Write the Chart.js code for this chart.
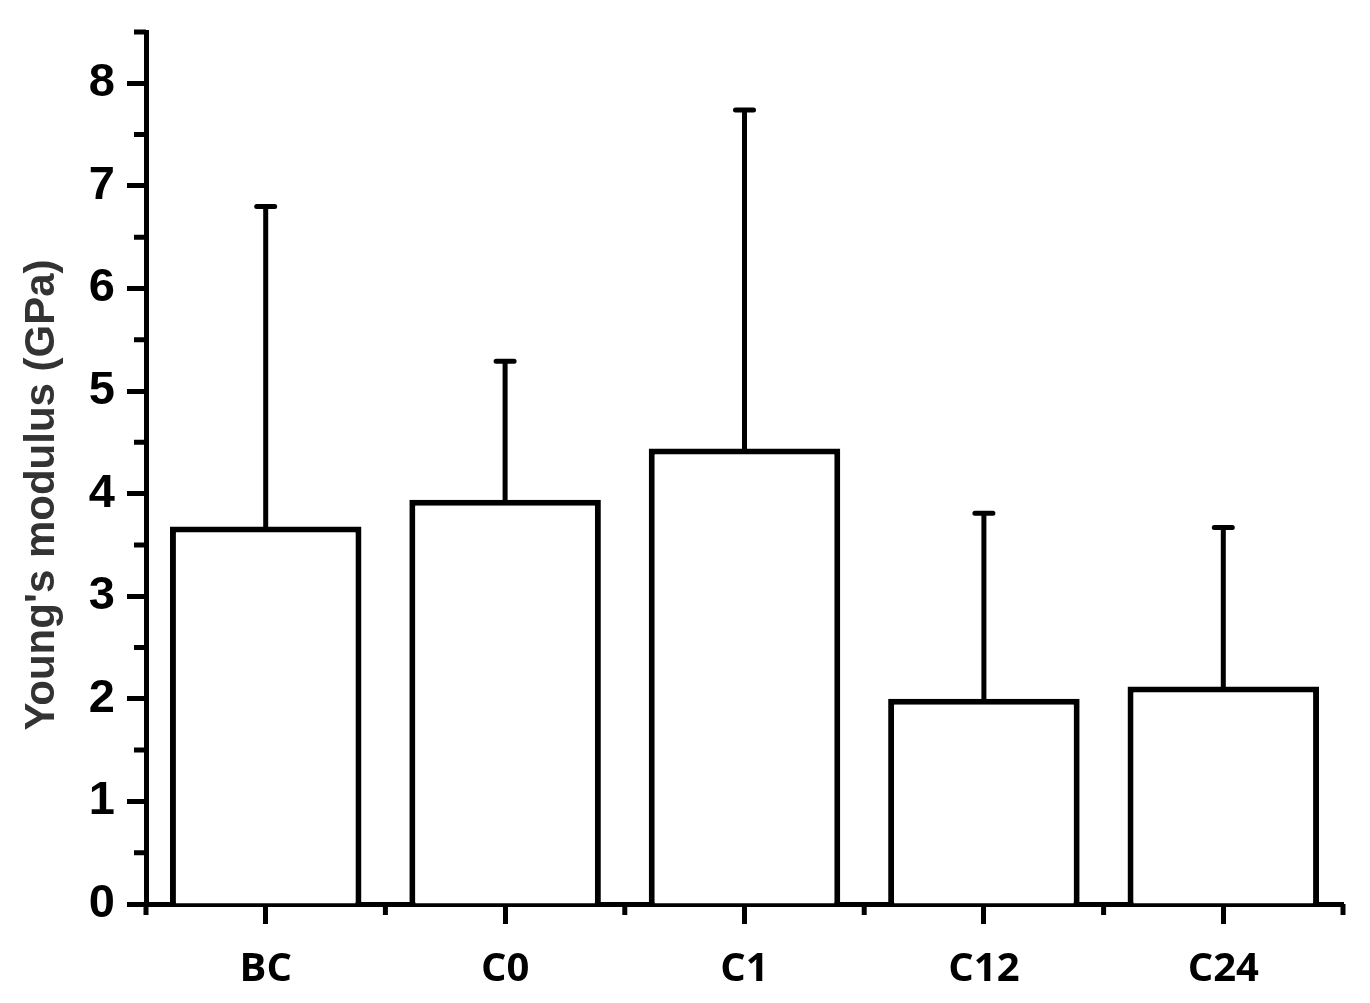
<!DOCTYPE html>
<html lang="en">
<head>
    <meta charset="UTF-8">
    <script src="https://cdn.jsdelivr.net/npm/chart.js"></script>
    <title>Young's modulus</title>
    <style>
        body { margin: 0; background: #fff; }
        .chart-box { width: 1370px; height: 1003px; }
    </style>
</head>
<body>
    <div class="chart-box">
        <canvas id="modulusChart"></canvas>
    </div>
    <script>
        // values
        var samples = ['BC', 'C0', 'C1', 'C12', 'C24'];
        var modulus = [3.68, 3.94, 4.44, 2.00, 2.12];
        var modulusErr = [3.12, 1.35, 3.30, 1.81, 1.55];
        var yMinorTicks = [0.5, 1.5, 2.5, 3.5, 4.5, 5.5, 6.5, 7.5, 8.5];
        var yTitle = "Young's modulus (GPa)";

        // upper error bars on top of each bar
        var errorBars = {
            id: 'errorBars',
            afterDatasetsDraw: function (chart) {
                var ctx = chart.ctx;
                var y = chart.scales.y;
                var meta = chart.getDatasetMeta(0);
                ctx.save();
                ctx.strokeStyle = '#000';
                ctx.lineWidth = 5;
                ctx.lineCap = 'round';
                meta.data.forEach(function (bar, i) {
                    var top = y.getPixelForValue(modulus[i] + modulusErr[i]);
                    ctx.beginPath();
                    ctx.moveTo(bar.x, bar.y);
                    ctx.lineTo(bar.x, top);
                    ctx.moveTo(bar.x - 9, top);
                    ctx.lineTo(bar.x + 9, top);
                    ctx.stroke();
                });
                ctx.restore();
            }
        };

        // minor ticks + rotated y title
        var axisExtras = {
            id: 'axisExtras',
            afterDraw: function (chart) {
                var ctx = chart.ctx;
                var x = chart.scales.x;
                var y = chart.scales.y;
                ctx.save();
                ctx.strokeStyle = '#000';
                ctx.lineWidth = 5;
                ctx.beginPath();
                yMinorTicks.forEach(function (v) {
                    var py = y.getPixelForValue(v);
                    ctx.moveTo(y.right - 12, py);
                    ctx.lineTo(y.right, py);
                });
                for (var i = 0; i <= samples.length; i++) {
                    var px = x.getPixelForValue(i - 0.5);
                    ctx.moveTo(px, x.top);
                    ctx.lineTo(px, x.top + 11);
                }
                ctx.stroke();

                ctx.translate(42, 495);
                ctx.rotate(-Math.PI / 2);
                ctx.fillStyle = '#333';
                ctx.font = 'bold 42px "Liberation Sans", Arial, sans-serif';
                ctx.textAlign = 'center';
                ctx.textBaseline = 'middle';
                ctx.fillText(yTitle, 0, 0);
                ctx.restore();
            }
        };

        const data = {
            labels: samples,
            datasets: [{
                label: "Young's modulus",
                data: modulus,
                backgroundColor: '#fff',
                borderColor: '#000',
                borderWidth: 6,
                borderSkipped: 'start',
                barPercentage: 0.8,
                categoryPercentage: 1.0
            }]
        };

        const config = {
            type: 'bar',
            data: data,
            options: {
                responsive: true,
                maintainAspectRatio: false,
                animation: false,
                layout: { padding: { top: 32, right: 27, left: 0, bottom: 0 } },
                plugins: {
                    legend: { display: false },
                    tooltip: { enabled: false }
                },
                scales: {
                    x: {
                        z: 1,
                        offset: true,
                        grid: {
                            display: true,
                            offset: false,
                            drawOnChartArea: false,
                            drawTicks: true,
                            tickLength: 20,
                            tickWidth: 5,
                            tickColor: '#000'
                        },
                        border: { display: true, width: 5, color: '#000' },
                        ticks: {
                            color: '#000',
                            padding: 22,
                            maxRotation: 0,
                            autoSkip: false,
                            font: { family: '"Open Sans", sans-serif', weight: 'bold', size: 40 }
                        },
                        afterFit: function (scale) {
                            scale.height = 99;
                            scale.paddingLeft = 0;
                            scale.paddingRight = 0;
                        }
                    },
                    y: {
                        z: 1,
                        min: 0,
                        max: 8.5,
                        grid: {
                            display: true,
                            drawOnChartArea: false,
                            drawTicks: true,
                            tickLength: 19,
                            tickWidth: 5,
                            tickColor: '#000'
                        },
                        border: { display: true, width: 5, color: '#000' },
                        ticks: {
                            stepSize: 1,
                            includeBounds: false,
                            color: '#000',
                            padding: 12,
                            font: { family: '"Liberation Sans", Arial, sans-serif', weight: 'bold', size: 47 }
                        },
                        afterFit: function (scale) {
                            scale.width = 146;
                            scale.paddingTop = 0;
                            scale.paddingBottom = 0;
                        }
                    }
                }
            },
            plugins: [errorBars, axisExtras]
        };

        const modulusChart = new Chart(
            document.getElementById('modulusChart'),
            config
        );
    </script>
</body>
</html>
